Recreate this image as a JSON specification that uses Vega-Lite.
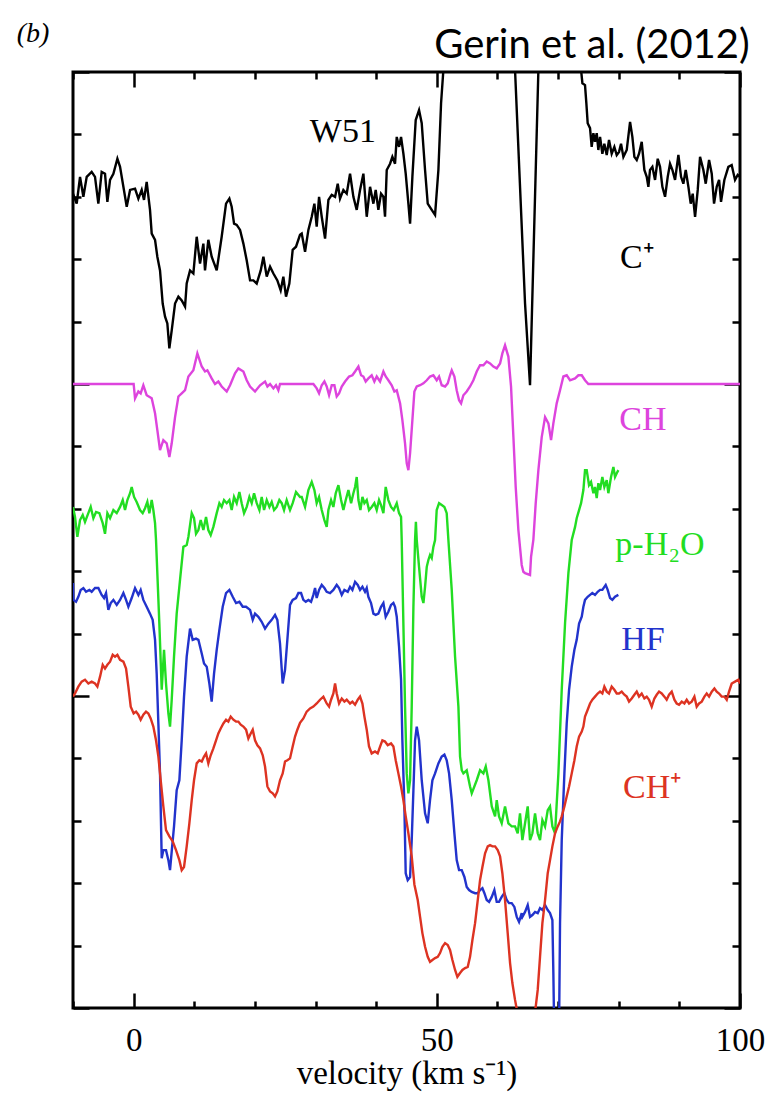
{
"$schema": "https://vega.github.io/schema/vega-lite/v6.json",
"width": 667, "height": 936,
"autosize": {"type": "none"},
"padding": {"left": 73, "top": 72, "right": 36, "bottom": 89},
"background": "white",
"config": {"view": {"stroke": "black", "strokeWidth": 3}, "axis": {"grid": false, "domain": false, "tickColor": "black", "tickWidth": 2.5, "labelColor": "black", "titleColor": "black"}},
"datasets": {
"spectra": [
{"s":"C+","v":-10,"y":13.05},{"s":"C+","v":-9.39,"y":12.89},{"s":"C+","v":-8.84,"y":13.32},{"s":"C+","v":-8.29,"y":13.0},{"s":"C+","v":-7.74,"y":13.32},{"s":"C+","v":-6.92,"y":13.4},{"s":"C+","v":-6.37,"y":13.32},{"s":"C+","v":-5.82,"y":12.89},{"s":"C+","v":-5.27,"y":13.4},{"s":"C+","v":-4.72,"y":13.37},{"s":"C+","v":-4.33,"y":12.92},{"s":"C+","v":-3.89,"y":13.27},{"s":"C+","v":-3.34,"y":13.37},{"s":"C+","v":-2.68,"y":13.61},{"s":"C+","v":-2.24,"y":13.48},{"s":"C+","v":-1.69,"y":13.16},{"s":"C+","v":-1.14,"y":12.84},{"s":"C+","v":-0.59,"y":13.11},{"s":"C+","v":0.23,"y":13.13},{"s":"C+","v":0.78,"y":12.97},{"s":"C+","v":1.33,"y":13.11},{"s":"C+","v":1.71,"y":12.95},{"s":"C+","v":2.15,"y":13.24},{"s":"C+","v":2.7,"y":12.79},{"s":"C+","v":2.98,"y":12.41},{"s":"C+","v":3.53,"y":12.31},{"s":"C+","v":3.91,"y":12.04},{"s":"C+","v":4.35,"y":11.82},{"s":"C+","v":4.79,"y":11.29},{"s":"C+","v":5.18,"y":11.08},{"s":"C+","v":5.56,"y":10.97},{"s":"C+","v":5.89,"y":10.57},{"s":"C+","v":6.28,"y":10.86},{"s":"C+","v":6.83,"y":11.29},{"s":"C+","v":7.38,"y":11.4},{"s":"C+","v":7.93,"y":11.34},{"s":"C+","v":8.48,"y":11.24},{"s":"C+","v":8.75,"y":11.61},{"s":"C+","v":9.3,"y":11.82},{"s":"C+","v":9.85,"y":11.77},{"s":"C+","v":10.4,"y":12.36},{"s":"C+","v":10.95,"y":11.93},{"s":"C+","v":11.5,"y":12.25},{"s":"C+","v":11.77,"y":11.82},{"s":"C+","v":12.32,"y":12.31},{"s":"C+","v":12.87,"y":12.04},{"s":"C+","v":13.7,"y":11.82},{"s":"C+","v":14.52,"y":12.36},{"s":"C+","v":15.24,"y":12.89},{"s":"C+","v":15.79,"y":12.97},{"s":"C+","v":16.17,"y":12.84},{"s":"C+","v":16.56,"y":12.57},{"s":"C+","v":17.0,"y":12.55},{"s":"C+","v":17.55,"y":12.47},{"s":"C+","v":18.1,"y":12.25},{"s":"C+","v":18.65,"y":11.98},{"s":"C+","v":19.2,"y":11.66},{"s":"C+","v":19.75,"y":11.66},{"s":"C+","v":20.3,"y":11.61},{"s":"C+","v":20.96,"y":11.82},{"s":"C+","v":21.4,"y":12.04},{"s":"C+","v":21.95,"y":11.72},{"s":"C+","v":22.5,"y":11.88},{"s":"C+","v":23.05,"y":11.77},{"s":"C+","v":23.7,"y":11.66},{"s":"C+","v":24.25,"y":11.5},{"s":"C+","v":24.69,"y":11.72},{"s":"C+","v":25.13,"y":11.4},{"s":"C+","v":25.68,"y":11.61},{"s":"C+","v":26.23,"y":12.15},{"s":"C+","v":26.78,"y":12.2},{"s":"C+","v":27.44,"y":12.39},{"s":"C+","v":27.72,"y":12.41},{"s":"C+","v":28.27,"y":12.12},{"s":"C+","v":28.82,"y":12.47},{"s":"C+","v":29.37,"y":12.68},{"s":"C+","v":29.81,"y":12.89},{"s":"C+","v":30.19,"y":12.52},{"s":"C+","v":30.58,"y":13.0},{"s":"C+","v":31.02,"y":12.68},{"s":"C+","v":31.57,"y":12.33},{"s":"C+","v":32.12,"y":12.95},{"s":"C+","v":32.67,"y":13.03},{"s":"C+","v":33.22,"y":13.0},{"s":"C+","v":33.66,"y":13.21},{"s":"C+","v":34.04,"y":12.97},{"s":"C+","v":34.59,"y":13.11},{"s":"C+","v":35.14,"y":13.05},{"s":"C+","v":35.69,"y":13.37},{"s":"C+","v":36.24,"y":13.0},{"s":"C+","v":36.79,"y":12.79},{"s":"C+","v":37.34,"y":13.11},{"s":"C+","v":37.89,"y":13.37},{"s":"C+","v":38.44,"y":12.68},{"s":"C+","v":38.99,"y":13.16},{"s":"C+","v":39.54,"y":12.89},{"s":"C+","v":39.92,"y":13.11},{"s":"C+","v":40.36,"y":12.79},{"s":"C+","v":40.8,"y":13.05},{"s":"C+","v":41.19,"y":13.0},{"s":"C+","v":41.46,"y":12.68},{"s":"C+","v":41.74,"y":13.43},{"s":"C+","v":42.29,"y":13.53},{"s":"C+","v":42.67,"y":13.64},{"s":"C+","v":43.11,"y":13.53},{"s":"C+","v":43.39,"y":13.96},{"s":"C+","v":43.77,"y":13.8},{"s":"C+","v":44.1,"y":13.96},{"s":"C+","v":44.49,"y":13.69},{"s":"C+","v":44.87,"y":13.37},{"s":"C+","v":45.31,"y":12.89},{"s":"C+","v":45.59,"y":12.57},{"s":"C+","v":45.97,"y":13.32},{"s":"C+","v":46.52,"y":14.23},{"s":"C+","v":47.07,"y":14.39},{"s":"C+","v":47.51,"y":14.18},{"s":"C+","v":48.06,"y":13.43},{"s":"C+","v":48.5,"y":12.89},{"s":"C+","v":49.16,"y":12.79},{"s":"C+","v":49.71,"y":12.71},{"s":"C+","v":50.26,"y":13.43},{"s":"C+","v":50.7,"y":14.5},{"s":"C+","v":51.08,"y":15.03},{"s":"C+","v":51.7,"y":16.2},{"s":"C+","v":62.4,"y":16.2},{"s":"C+","v":62.9,"y":15.03},{"s":"C+","v":64.55,"y":11.29},{"s":"C+","v":65.37,"y":9.98},{"s":"C+","v":66.75,"y":15.03},{"s":"C+","v":67.07,"y":16.2},{"s":"C+","v":73.7,"y":16.2},{"s":"C+","v":73.79,"y":15.03},{"s":"C+","v":74.01,"y":14.82},{"s":"C+","v":74.44,"y":14.79},{"s":"C+","v":74.66,"y":14.5},{"s":"C+","v":74.88,"y":14.18},{"s":"C+","v":75.27,"y":14.1},{"s":"C+","v":75.54,"y":13.8},{"s":"C+","v":75.82,"y":14.02},{"s":"C+","v":76.09,"y":13.88},{"s":"C+","v":76.37,"y":14.02},{"s":"C+","v":76.64,"y":13.75},{"s":"C+","v":76.92,"y":13.96},{"s":"C+","v":77.3,"y":13.69},{"s":"C+","v":77.63,"y":13.85},{"s":"C+","v":78.02,"y":13.67},{"s":"C+","v":78.4,"y":13.91},{"s":"C+","v":78.84,"y":13.69},{"s":"C+","v":79.28,"y":13.8},{"s":"C+","v":79.67,"y":13.67},{"s":"C+","v":80.05,"y":13.72},{"s":"C+","v":80.38,"y":13.85},{"s":"C+","v":80.77,"y":13.64},{"s":"C+","v":81.32,"y":13.75},{"s":"C+","v":81.87,"y":14.2},{"s":"C+","v":82.25,"y":13.96},{"s":"C+","v":82.58,"y":13.64},{"s":"C+","v":82.97,"y":13.59},{"s":"C+","v":83.35,"y":13.69},{"s":"C+","v":83.79,"y":13.88},{"s":"C+","v":84.23,"y":13.43},{"s":"C+","v":84.62,"y":13.32},{"s":"C+","v":84.89,"y":13.16},{"s":"C+","v":85.16,"y":13.43},{"s":"C+","v":85.55,"y":13.48},{"s":"C+","v":85.99,"y":13.27},{"s":"C+","v":86.43,"y":13.61},{"s":"C+","v":86.81,"y":13.48},{"s":"C+","v":87.2,"y":13.16},{"s":"C+","v":87.64,"y":13.0},{"s":"C+","v":88.08,"y":13.32},{"s":"C+","v":88.46,"y":13.53},{"s":"C+","v":88.85,"y":13.43},{"s":"C+","v":89.29,"y":13.27},{"s":"C+","v":89.84,"y":13.67},{"s":"C+","v":90.28,"y":13.32},{"s":"C+","v":90.66,"y":13.21},{"s":"C+","v":91.05,"y":13.43},{"s":"C+","v":91.49,"y":13.16},{"s":"C+","v":91.87,"y":12.89},{"s":"C+","v":92.2,"y":13.05},{"s":"C+","v":92.59,"y":12.68},{"s":"C+","v":93.03,"y":13.11},{"s":"C+","v":93.41,"y":13.64},{"s":"C+","v":93.96,"y":13.43},{"s":"C+","v":94.35,"y":13.21},{"s":"C+","v":94.9,"y":13.59},{"s":"C+","v":95.34,"y":13.37},{"s":"C+","v":95.72,"y":12.89},{"s":"C+","v":96.16,"y":13.16},{"s":"C+","v":96.55,"y":13.27},{"s":"C+","v":96.87,"y":12.92},{"s":"C+","v":97.42,"y":13.27},{"s":"C+","v":98.08,"y":13.48},{"s":"C+","v":98.63,"y":13.51},{"s":"C+","v":99.18,"y":13.27},{"s":"C+","v":99.62,"y":13.35},{"s":"C+","v":100,"y":13.32},

{"s":"CH","v":-10,"y":10},{"s":"CH","v":0,"y":10},{"s":"CH","v":0.23,"y":9.77},{"s":"CH","v":0.78,"y":9.88},{"s":"CH","v":1.16,"y":9.85},{"s":"CH","v":1.6,"y":9.98},{"s":"CH","v":2.15,"y":9.82},{"s":"CH","v":2.98,"y":9.77},{"s":"CH","v":3.53,"y":9.53},{"s":"CH","v":3.91,"y":9.26},{"s":"CH","v":4.35,"y":8.94},{"s":"CH","v":4.9,"y":9.1},{"s":"CH","v":5.45,"y":9.05},{"s":"CH","v":5.89,"y":8.83},{"s":"CH","v":6.28,"y":9.05},{"s":"CH","v":6.83,"y":9.47},{"s":"CH","v":7.38,"y":9.8},{"s":"CH","v":7.93,"y":9.85},{"s":"CH","v":8.48,"y":9.9},{"s":"CH","v":9.03,"y":10.12},{"s":"CH","v":9.85,"y":10.22},{"s":"CH","v":10.51,"y":10.49},{"s":"CH","v":11.23,"y":10.28},{"s":"CH","v":11.77,"y":10.2},{"s":"CH","v":12.16,"y":10.22},{"s":"CH","v":12.87,"y":10.09},{"s":"CH","v":13.42,"y":10.0},{"s":"CH","v":13.97,"y":10.04},{"s":"CH","v":14.52,"y":9.96},{"s":"CH","v":15.35,"y":9.88},{"s":"CH","v":15.9,"y":9.98},{"s":"CH","v":16.72,"y":10.17},{"s":"CH","v":17.27,"y":10.25},{"s":"CH","v":18.1,"y":10.2},{"s":"CH","v":18.65,"y":10.06},{"s":"CH","v":19.2,"y":9.96},{"s":"CH","v":20.02,"y":9.88},{"s":"CH","v":20.85,"y":9.98},{"s":"CH","v":21.67,"y":10.04},{"s":"CH","v":22.06,"y":9.96},{"s":"CH","v":22.5,"y":10.0},{"s":"CH","v":23.05,"y":9.93},{"s":"CH","v":23.48,"y":9.98},{"s":"CH","v":23.87,"y":9.9},{"s":"CH","v":24.14,"y":10},{"s":"CH","v":29.64,"y":10},{"s":"CH","v":30.19,"y":9.93},{"s":"CH","v":30.58,"y":9.85},{"s":"CH","v":31.02,"y":9.98},{"s":"CH","v":31.46,"y":10.04},{"s":"CH","v":31.84,"y":9.96},{"s":"CH","v":32.23,"y":9.82},{"s":"CH","v":32.67,"y":9.98},{"s":"CH","v":33.11,"y":9.98},{"s":"CH","v":33.49,"y":9.8},{"s":"CH","v":33.88,"y":9.85},{"s":"CH","v":34.32,"y":9.96},{"s":"CH","v":34.87,"y":10.04},{"s":"CH","v":35.53,"y":10.12},{"s":"CH","v":36.08,"y":10.14},{"s":"CH","v":36.52,"y":10.2},{"s":"CH","v":37.07,"y":10.28},{"s":"CH","v":37.51,"y":10.14},{"s":"CH","v":37.89,"y":10.12},{"s":"CH","v":38.27,"y":10.04},{"s":"CH","v":38.71,"y":10.09},{"s":"CH","v":39.26,"y":10.14},{"s":"CH","v":39.7,"y":10.04},{"s":"CH","v":40.09,"y":10.12},{"s":"CH","v":40.64,"y":10.04},{"s":"CH","v":41.19,"y":10.2},{"s":"CH","v":41.57,"y":10.12},{"s":"CH","v":42.01,"y":10.06},{"s":"CH","v":42.56,"y":9.98},{"s":"CH","v":43.0,"y":9.88},{"s":"CH","v":43.39,"y":9.9},{"s":"CH","v":43.94,"y":9.69},{"s":"CH","v":44.32,"y":9.42},{"s":"CH","v":44.76,"y":9.05},{"s":"CH","v":45.04,"y":8.73},{"s":"CH","v":45.31,"y":8.62},{"s":"CH","v":45.59,"y":8.89},{"s":"CH","v":45.97,"y":9.42},{"s":"CH","v":46.3,"y":9.88},{"s":"CH","v":46.69,"y":9.96},{"s":"CH","v":47.24,"y":9.98},{"s":"CH","v":47.79,"y":10.01},{"s":"CH","v":48.34,"y":10.06},{"s":"CH","v":48.88,"y":10.12},{"s":"CH","v":49.43,"y":10.14},{"s":"CH","v":49.98,"y":10.06},{"s":"CH","v":50.37,"y":10.12},{"s":"CH","v":50.81,"y":9.98},{"s":"CH","v":51.36,"y":9.96},{"s":"CH","v":51.8,"y":10.01},{"s":"CH","v":52.18,"y":10.14},{"s":"CH","v":52.46,"y":10.22},{"s":"CH","v":52.9,"y":10.12},{"s":"CH","v":53.28,"y":9.9},{"s":"CH","v":53.67,"y":9.74},{"s":"CH","v":54.0,"y":9.69},{"s":"CH","v":54.38,"y":9.82},{"s":"CH","v":54.93,"y":9.88},{"s":"CH","v":55.48,"y":9.96},{"s":"CH","v":56.03,"y":10.06},{"s":"CH","v":56.58,"y":10.2},{"s":"CH","v":57.13,"y":10.3},{"s":"CH","v":57.68,"y":10.3},{"s":"CH","v":58.23,"y":10.36},{"s":"CH","v":58.78,"y":10.33},{"s":"CH","v":59.33,"y":10.28},{"s":"CH","v":59.88,"y":10.25},{"s":"CH","v":60.43,"y":10.33},{"s":"CH","v":60.81,"y":10.49},{"s":"CH","v":61.25,"y":10.62},{"s":"CH","v":61.8,"y":10.44},{"s":"CH","v":62.24,"y":9.96},{"s":"CH","v":62.63,"y":9.15},{"s":"CH","v":63.01,"y":8.35},{"s":"CH","v":63.45,"y":7.66},{"s":"CH","v":64.0,"y":7.1},{"s":"CH","v":64.27,"y":6.99},{"s":"CH","v":64.55,"y":6.97},{"s":"CH","v":65.37,"y":6.94},{"s":"CH","v":65.54,"y":7.23},{"s":"CH","v":65.92,"y":7.5},{"s":"CH","v":66.31,"y":8.09},{"s":"CH","v":66.75,"y":8.62},{"s":"CH","v":67.3,"y":9.15},{"s":"CH","v":67.85,"y":9.47},{"s":"CH","v":68.4,"y":9.37},{"s":"CH","v":68.84,"y":9.1},{"s":"CH","v":69.22,"y":9.37},{"s":"CH","v":69.77,"y":9.69},{"s":"CH","v":70.32,"y":9.9},{"s":"CH","v":70.87,"y":10.12},{"s":"CH","v":71.42,"y":10.14},{"s":"CH","v":71.97,"y":10.06},{"s":"CH","v":72.8,"y":10.09},{"s":"CH","v":73.35,"y":10.14},{"s":"CH","v":73.9,"y":10.14},{"s":"CH","v":74.44,"y":10.06},{"s":"CH","v":74.99,"y":10},{"s":"CH","v":100,"y":10},

{"s":"H2O","v":-10,"y":8.03},{"s":"H2O","v":-9.67,"y":7.87},{"s":"H2O","v":-9.28,"y":7.55},{"s":"H2O","v":-8.84,"y":7.82},{"s":"H2O","v":-8.4,"y":7.9},{"s":"H2O","v":-8.02,"y":7.79},{"s":"H2O","v":-7.47,"y":7.93},{"s":"H2O","v":-7.08,"y":8.03},{"s":"H2O","v":-6.64,"y":7.85},{"s":"H2O","v":-6.2,"y":7.95},{"s":"H2O","v":-5.65,"y":7.93},{"s":"H2O","v":-5.1,"y":7.77},{"s":"H2O","v":-4.72,"y":7.6},{"s":"H2O","v":-4.33,"y":7.93},{"s":"H2O","v":-3.89,"y":7.85},{"s":"H2O","v":-3.34,"y":7.98},{"s":"H2O","v":-2.79,"y":7.93},{"s":"H2O","v":-2.24,"y":8.03},{"s":"H2O","v":-1.8,"y":8.14},{"s":"H2O","v":-1.42,"y":7.98},{"s":"H2O","v":-1.03,"y":8.14},{"s":"H2O","v":-0.59,"y":8.25},{"s":"H2O","v":-0.32,"y":8.35},{"s":"H2O","v":0.07,"y":8.19},{"s":"H2O","v":0.5,"y":8.11},{"s":"H2O","v":1.05,"y":7.98},{"s":"H2O","v":1.49,"y":7.93},{"s":"H2O","v":1.88,"y":8.01},{"s":"H2O","v":2.26,"y":8.11},{"s":"H2O","v":2.59,"y":7.93},{"s":"H2O","v":2.98,"y":8.14},{"s":"H2O","v":3.25,"y":7.98},{"s":"H2O","v":3.53,"y":7.77},{"s":"H2O","v":3.69,"y":7.5},{"s":"H2O","v":4.24,"y":6.16},{"s":"H2O","v":4.63,"y":5.1},{"s":"H2O","v":5.01,"y":5.74},{"s":"H2O","v":5.34,"y":5.2},{"s":"H2O","v":5.73,"y":4.72},{"s":"H2O","v":6.0,"y":4.51},{"s":"H2O","v":6.28,"y":4.94},{"s":"H2O","v":6.66,"y":5.63},{"s":"H2O","v":7.1,"y":6.32},{"s":"H2O","v":7.65,"y":6.86},{"s":"H2O","v":8.2,"y":7.39},{"s":"H2O","v":8.75,"y":7.42},{"s":"H2O","v":9.03,"y":7.55},{"s":"H2O","v":9.58,"y":7.93},{"s":"H2O","v":9.96,"y":7.85},{"s":"H2O","v":10.29,"y":7.6},{"s":"H2O","v":10.68,"y":7.66},{"s":"H2O","v":11.06,"y":7.82},{"s":"H2O","v":11.5,"y":7.66},{"s":"H2O","v":11.94,"y":7.87},{"s":"H2O","v":12.32,"y":7.66},{"s":"H2O","v":12.71,"y":7.58},{"s":"H2O","v":13.15,"y":7.71},{"s":"H2O","v":13.7,"y":7.93},{"s":"H2O","v":14.14,"y":8.09},{"s":"H2O","v":14.52,"y":8.03},{"s":"H2O","v":14.91,"y":8.14},{"s":"H2O","v":15.35,"y":8.09},{"s":"H2O","v":15.79,"y":8.14},{"s":"H2O","v":16.17,"y":7.98},{"s":"H2O","v":16.56,"y":8.19},{"s":"H2O","v":17.0,"y":8.09},{"s":"H2O","v":17.44,"y":8.27},{"s":"H2O","v":17.82,"y":8.09},{"s":"H2O","v":18.21,"y":7.93},{"s":"H2O","v":18.65,"y":8.03},{"s":"H2O","v":19.09,"y":8.19},{"s":"H2O","v":19.47,"y":8.09},{"s":"H2O","v":19.86,"y":8.25},{"s":"H2O","v":20.3,"y":8.09},{"s":"H2O","v":20.74,"y":7.98},{"s":"H2O","v":21.12,"y":8.19},{"s":"H2O","v":21.51,"y":7.98},{"s":"H2O","v":21.95,"y":8.14},{"s":"H2O","v":22.39,"y":8.03},{"s":"H2O","v":22.77,"y":8.11},{"s":"H2O","v":23.16,"y":7.98},{"s":"H2O","v":23.6,"y":8.03},{"s":"H2O","v":24.03,"y":8.14},{"s":"H2O","v":24.42,"y":8.09},{"s":"H2O","v":24.8,"y":7.98},{"s":"H2O","v":25.24,"y":8.14},{"s":"H2O","v":25.79,"y":7.98},{"s":"H2O","v":26.23,"y":8.09},{"s":"H2O","v":26.78,"y":8.27},{"s":"H2O","v":27.44,"y":8.19},{"s":"H2O","v":27.72,"y":8.19},{"s":"H2O","v":28.27,"y":8.03},{"s":"H2O","v":28.82,"y":8.3},{"s":"H2O","v":29.37,"y":8.43},{"s":"H2O","v":29.81,"y":8.3},{"s":"H2O","v":30.19,"y":8.09},{"s":"H2O","v":30.58,"y":8.19},{"s":"H2O","v":31.02,"y":7.98},{"s":"H2O","v":31.46,"y":7.82},{"s":"H2O","v":31.84,"y":7.71},{"s":"H2O","v":32.12,"y":7.98},{"s":"H2O","v":32.56,"y":8.14},{"s":"H2O","v":32.94,"y":8.03},{"s":"H2O","v":33.33,"y":8.25},{"s":"H2O","v":33.77,"y":8.38},{"s":"H2O","v":34.21,"y":8.14},{"s":"H2O","v":34.59,"y":7.98},{"s":"H2O","v":34.98,"y":8.14},{"s":"H2O","v":35.42,"y":8.3},{"s":"H2O","v":35.86,"y":8.09},{"s":"H2O","v":36.24,"y":8.25},{"s":"H2O","v":36.52,"y":8.35},{"s":"H2O","v":36.79,"y":8.51},{"s":"H2O","v":37.07,"y":8.14},{"s":"H2O","v":37.4,"y":7.98},{"s":"H2O","v":37.73,"y":8.19},{"s":"H2O","v":38.06,"y":8.09},{"s":"H2O","v":38.44,"y":8.14},{"s":"H2O","v":38.82,"y":7.98},{"s":"H2O","v":39.26,"y":8.03},{"s":"H2O","v":39.7,"y":8.09},{"s":"H2O","v":40.09,"y":7.98},{"s":"H2O","v":40.47,"y":8.14},{"s":"H2O","v":40.8,"y":8.06},{"s":"H2O","v":41.19,"y":7.93},{"s":"H2O","v":41.57,"y":8.35},{"s":"H2O","v":42.01,"y":8.14},{"s":"H2O","v":42.45,"y":8.03},{"s":"H2O","v":42.89,"y":7.98},{"s":"H2O","v":43.39,"y":8.09},{"s":"H2O","v":43.77,"y":7.93},{"s":"H2O","v":44.1,"y":7.87},{"s":"H2O","v":44.21,"y":7.5},{"s":"H2O","v":44.76,"y":4.83},{"s":"H2O","v":45.04,"y":3.76},{"s":"H2O","v":45.31,"y":3.44},{"s":"H2O","v":45.59,"y":3.65},{"s":"H2O","v":45.86,"y":4.83},{"s":"H2O","v":46.14,"y":6.43},{"s":"H2O","v":46.41,"y":7.5},{"s":"H2O","v":46.55,"y":7.79},{"s":"H2O","v":46.69,"y":7.5},{"s":"H2O","v":47.07,"y":7.07},{"s":"H2O","v":47.51,"y":6.59},{"s":"H2O","v":47.79,"y":6.49},{"s":"H2O","v":48.06,"y":6.75},{"s":"H2O","v":48.34,"y":7.07},{"s":"H2O","v":48.61,"y":7.18},{"s":"H2O","v":48.88,"y":7.26},{"s":"H2O","v":49.16,"y":7.21},{"s":"H2O","v":49.43,"y":7.39},{"s":"H2O","v":49.71,"y":7.5},{"s":"H2O","v":49.98,"y":7.98},{"s":"H2O","v":50.37,"y":8.09},{"s":"H2O","v":50.81,"y":8.06},{"s":"H2O","v":51.25,"y":8.03},{"s":"H2O","v":51.63,"y":7.93},{"s":"H2O","v":51.91,"y":7.5},{"s":"H2O","v":52.46,"y":6.7},{"s":"H2O","v":53.01,"y":5.63},{"s":"H2O","v":53.56,"y":4.83},{"s":"H2O","v":53.83,"y":4.03},{"s":"H2O","v":54.11,"y":3.81},{"s":"H2O","v":54.38,"y":3.76},{"s":"H2O","v":54.93,"y":3.81},{"s":"H2O","v":55.48,"y":3.55},{"s":"H2O","v":55.76,"y":3.44},{"s":"H2O","v":56.58,"y":3.65},{"s":"H2O","v":57.13,"y":3.81},{"s":"H2O","v":57.68,"y":3.76},{"s":"H2O","v":58.07,"y":3.87},{"s":"H2O","v":58.51,"y":3.65},{"s":"H2O","v":59.06,"y":3.23},{"s":"H2O","v":59.61,"y":3.07},{"s":"H2O","v":59.88,"y":3.33},{"s":"H2O","v":60.26,"y":3.07},{"s":"H2O","v":60.7,"y":2.96},{"s":"H2O","v":61.25,"y":3.23},{"s":"H2O","v":61.8,"y":2.96},{"s":"H2O","v":62.35,"y":2.91},{"s":"H2O","v":62.9,"y":2.91},{"s":"H2O","v":63.34,"y":2.8},{"s":"H2O","v":63.72,"y":3.12},{"s":"H2O","v":64.11,"y":2.69},{"s":"H2O","v":64.55,"y":2.96},{"s":"H2O","v":64.99,"y":3.23},{"s":"H2O","v":65.37,"y":2.69},{"s":"H2O","v":65.76,"y":2.8},{"s":"H2O","v":66.2,"y":3.12},{"s":"H2O","v":66.64,"y":2.8},{"s":"H2O","v":67.02,"y":2.69},{"s":"H2O","v":67.41,"y":3.01},{"s":"H2O","v":67.85,"y":2.91},{"s":"H2O","v":68.29,"y":3.17},{"s":"H2O","v":68.67,"y":3.23},{"s":"H2O","v":69.06,"y":2.91},{"s":"H2O","v":69.5,"y":2.8},{"s":"H2O","v":70.05,"y":3.76},{"s":"H2O","v":70.6,"y":5.1},{"s":"H2O","v":71.15,"y":6.17},{"s":"H2O","v":71.7,"y":6.97},{"s":"H2O","v":72.25,"y":7.5},{"s":"H2O","v":72.8,"y":7.71},{"s":"H2O","v":73.07,"y":7.85},{"s":"H2O","v":73.46,"y":7.98},{"s":"H2O","v":73.79,"y":8.09},{"s":"H2O","v":74.17,"y":8.3},{"s":"H2O","v":74.44,"y":8.62},{"s":"H2O","v":74.72,"y":8.62},{"s":"H2O","v":75.1,"y":8.38},{"s":"H2O","v":75.43,"y":8.43},{"s":"H2O","v":75.82,"y":8.25},{"s":"H2O","v":76.09,"y":8.35},{"s":"H2O","v":76.37,"y":8.17},{"s":"H2O","v":76.64,"y":8.41},{"s":"H2O","v":76.92,"y":8.3},{"s":"H2O","v":77.3,"y":8.51},{"s":"H2O","v":77.63,"y":8.35},{"s":"H2O","v":78.02,"y":8.46},{"s":"H2O","v":78.29,"y":8.25},{"s":"H2O","v":78.73,"y":8.51},{"s":"H2O","v":79.12,"y":8.67},{"s":"H2O","v":79.39,"y":8.51},{"s":"H2O","v":79.67,"y":8.57},{"s":"H2O","v":79.94,"y":8.62},

{"s":"HF","v":-10,"y":6.81},{"s":"HF","v":-9.94,"y":6.54},{"s":"HF","v":-9.5,"y":6.51},{"s":"HF","v":-9.12,"y":6.59},{"s":"HF","v":-8.73,"y":6.7},{"s":"HF","v":-8.29,"y":6.73},{"s":"HF","v":-7.85,"y":6.67},{"s":"HF","v":-7.3,"y":6.7},{"s":"HF","v":-6.92,"y":6.67},{"s":"HF","v":-6.37,"y":6.73},{"s":"HF","v":-5.82,"y":6.73},{"s":"HF","v":-5.27,"y":6.62},{"s":"HF","v":-4.88,"y":6.57},{"s":"HF","v":-4.55,"y":6.65},{"s":"HF","v":-4.17,"y":6.38},{"s":"HF","v":-3.78,"y":6.49},{"s":"HF","v":-3.34,"y":6.54},{"s":"HF","v":-2.79,"y":6.46},{"s":"HF","v":-2.24,"y":6.54},{"s":"HF","v":-1.69,"y":6.65},{"s":"HF","v":-1.25,"y":6.54},{"s":"HF","v":-0.87,"y":6.43},{"s":"HF","v":-0.32,"y":6.57},{"s":"HF","v":0.23,"y":6.73},{"s":"HF","v":0.78,"y":6.62},{"s":"HF","v":1.16,"y":6.7},{"s":"HF","v":1.6,"y":6.54},{"s":"HF","v":2.15,"y":6.43},{"s":"HF","v":2.7,"y":6.32},{"s":"HF","v":3.14,"y":6.22},{"s":"HF","v":3.53,"y":5.9},{"s":"HF","v":3.8,"y":5.36},{"s":"HF","v":4.08,"y":4.56},{"s":"HF","v":4.35,"y":3.76},{"s":"HF","v":4.63,"y":2.4},{"s":"HF","v":4.9,"y":2.53},{"s":"HF","v":5.34,"y":2.53},{"s":"HF","v":5.73,"y":2.37},{"s":"HF","v":6.0,"y":2.21},{"s":"HF","v":6.28,"y":2.51},{"s":"HF","v":6.66,"y":2.91},{"s":"HF","v":7.1,"y":3.49},{"s":"HF","v":7.54,"y":3.65},{"s":"HF","v":7.93,"y":4.29},{"s":"HF","v":8.31,"y":4.99},{"s":"HF","v":8.75,"y":5.63},{"s":"HF","v":9.3,"y":6.08},{"s":"HF","v":9.74,"y":5.9},{"s":"HF","v":10.29,"y":5.92},{"s":"HF","v":10.68,"y":5.9},{"s":"HF","v":11.23,"y":5.68},{"s":"HF","v":11.61,"y":5.52},{"s":"HF","v":12.05,"y":5.47},{"s":"HF","v":12.49,"y":5.2},{"s":"HF","v":12.87,"y":4.91},{"s":"HF","v":13.26,"y":5.36},{"s":"HF","v":13.7,"y":5.74},{"s":"HF","v":14.14,"y":6.06},{"s":"HF","v":14.69,"y":6.43},{"s":"HF","v":15.24,"y":6.65},{"s":"HF","v":15.79,"y":6.7},{"s":"HF","v":16.34,"y":6.59},{"s":"HF","v":16.89,"y":6.49},{"s":"HF","v":17.44,"y":6.51},{"s":"HF","v":17.99,"y":6.43},{"s":"HF","v":18.54,"y":6.43},{"s":"HF","v":19.2,"y":6.38},{"s":"HF","v":19.64,"y":6.22},{"s":"HF","v":20.02,"y":6.32},{"s":"HF","v":20.57,"y":6.27},{"s":"HF","v":21.12,"y":6.19},{"s":"HF","v":21.67,"y":6.08},{"s":"HF","v":22.22,"y":6.16},{"s":"HF","v":22.77,"y":6.22},{"s":"HF","v":23.32,"y":6.3},{"s":"HF","v":23.7,"y":6.22},{"s":"HF","v":24.14,"y":5.84},{"s":"HF","v":24.58,"y":5.2},{"s":"HF","v":24.97,"y":5.42},{"s":"HF","v":25.35,"y":5.9},{"s":"HF","v":25.79,"y":6.46},{"s":"HF","v":26.23,"y":6.54},{"s":"HF","v":26.78,"y":6.57},{"s":"HF","v":27.17,"y":6.65},{"s":"HF","v":27.61,"y":6.65},{"s":"HF","v":27.99,"y":6.54},{"s":"HF","v":28.38,"y":6.51},{"s":"HF","v":28.82,"y":6.54},{"s":"HF","v":29.26,"y":6.51},{"s":"HF","v":29.64,"y":6.62},{"s":"HF","v":29.92,"y":6.73},{"s":"HF","v":30.19,"y":6.57},{"s":"HF","v":30.58,"y":6.7},{"s":"HF","v":31.02,"y":6.78},{"s":"HF","v":31.46,"y":6.73},{"s":"HF","v":31.84,"y":6.67},{"s":"HF","v":32.39,"y":6.65},{"s":"HF","v":32.94,"y":6.7},{"s":"HF","v":33.49,"y":6.78},{"s":"HF","v":33.88,"y":6.73},{"s":"HF","v":34.32,"y":6.62},{"s":"HF","v":34.76,"y":6.7},{"s":"HF","v":35.31,"y":6.67},{"s":"HF","v":35.69,"y":6.75},{"s":"HF","v":36.08,"y":6.7},{"s":"HF","v":36.52,"y":6.83},{"s":"HF","v":36.96,"y":6.78},{"s":"HF","v":37.34,"y":6.7},{"s":"HF","v":37.73,"y":6.75},{"s":"HF","v":38.16,"y":6.67},{"s":"HF","v":38.44,"y":6.73},{"s":"HF","v":38.71,"y":6.59},{"s":"HF","v":39.15,"y":6.49},{"s":"HF","v":39.54,"y":6.32},{"s":"HF","v":39.92,"y":6.3},{"s":"HF","v":40.36,"y":6.32},{"s":"HF","v":40.8,"y":6.43},{"s":"HF","v":41.19,"y":6.49},{"s":"HF","v":41.57,"y":6.27},{"s":"HF","v":42.01,"y":6.35},{"s":"HF","v":42.45,"y":6.46},{"s":"HF","v":42.84,"y":6.49},{"s":"HF","v":43.11,"y":6.43},{"s":"HF","v":43.39,"y":6.27},{"s":"HF","v":43.77,"y":5.79},{"s":"HF","v":44.1,"y":5.26},{"s":"HF","v":44.32,"y":4.29},{"s":"HF","v":44.65,"y":3.23},{"s":"HF","v":44.87,"y":2.16},{"s":"HF","v":45.2,"y":2.05},{"s":"HF","v":45.59,"y":2.1},{"s":"HF","v":45.86,"y":2.69},{"s":"HF","v":46.14,"y":3.49},{"s":"HF","v":46.41,"y":4.29},{"s":"HF","v":46.69,"y":4.51},{"s":"HF","v":47.07,"y":4.29},{"s":"HF","v":47.51,"y":3.65},{"s":"HF","v":48.06,"y":3.12},{"s":"HF","v":48.5,"y":2.96},{"s":"HF","v":48.88,"y":3.33},{"s":"HF","v":49.27,"y":3.65},{"s":"HF","v":49.71,"y":3.76},{"s":"HF","v":50.26,"y":3.92},{"s":"HF","v":50.81,"y":4.03},{"s":"HF","v":51.25,"y":4.06},{"s":"HF","v":51.63,"y":3.97},{"s":"HF","v":52.02,"y":3.76},{"s":"HF","v":52.46,"y":3.33},{"s":"HF","v":52.9,"y":2.8},{"s":"HF","v":53.28,"y":2.37},{"s":"HF","v":53.67,"y":2.21},{"s":"HF","v":54.11,"y":2.21},{"s":"HF","v":54.55,"y":2.1},{"s":"HF","v":54.93,"y":1.94},{"s":"HF","v":55.32,"y":1.89},{"s":"HF","v":55.76,"y":1.86},{"s":"HF","v":56.31,"y":1.84},{"s":"HF","v":56.75,"y":1.84},{"s":"HF","v":57.13,"y":1.89},{"s":"HF","v":57.52,"y":1.92},{"s":"HF","v":57.85,"y":1.84},{"s":"HF","v":58.23,"y":1.73},{"s":"HF","v":58.62,"y":1.7},{"s":"HF","v":59.06,"y":1.78},{"s":"HF","v":59.49,"y":1.89},{"s":"HF","v":59.88,"y":1.7},{"s":"HF","v":60.26,"y":1.7},{"s":"HF","v":60.7,"y":1.78},{"s":"HF","v":61.14,"y":1.84},{"s":"HF","v":61.53,"y":1.73},{"s":"HF","v":61.91,"y":1.68},{"s":"HF","v":62.35,"y":1.68},{"s":"HF","v":62.79,"y":1.62},{"s":"HF","v":63.18,"y":1.46},{"s":"HF","v":63.56,"y":1.38},{"s":"HF","v":64.0,"y":1.52},{"s":"HF","v":64.11,"y":1.46},{"s":"HF","v":64.55,"y":1.54},{"s":"HF","v":64.99,"y":1.65},{"s":"HF","v":65.37,"y":1.46},{"s":"HF","v":65.76,"y":1.49},{"s":"HF","v":66.2,"y":1.54},{"s":"HF","v":66.64,"y":1.52},{"s":"HF","v":67.02,"y":1.6},{"s":"HF","v":67.41,"y":1.57},{"s":"HF","v":67.85,"y":1.65},{"s":"HF","v":68.29,"y":1.57},{"s":"HF","v":68.67,"y":1.52},{"s":"HF","v":69.06,"y":1.41},{"s":"HF","v":69.22,"y":0.56},{"s":"HF","v":69.45,"y":-1},{"s":"HF","v":70.1,"y":-1},{"s":"HF","v":70.32,"y":1.36},{"s":"HF","v":70.6,"y":2.69},{"s":"HF","v":71.04,"y":3.76},{"s":"HF","v":71.42,"y":4.56},{"s":"HF","v":71.81,"y":5.1},{"s":"HF","v":72.25,"y":5.47},{"s":"HF","v":72.69,"y":5.74},{"s":"HF","v":73.07,"y":5.9},{"s":"HF","v":73.46,"y":6.16},{"s":"HF","v":73.9,"y":6.27},{"s":"HF","v":74.17,"y":6.43},{"s":"HF","v":74.44,"y":6.54},{"s":"HF","v":74.88,"y":6.59},{"s":"HF","v":75.27,"y":6.62},{"s":"HF","v":75.65,"y":6.65},{"s":"HF","v":76.09,"y":6.62},{"s":"HF","v":76.53,"y":6.67},{"s":"HF","v":76.92,"y":6.7},{"s":"HF","v":77.3,"y":6.7},{"s":"HF","v":77.63,"y":6.75},{"s":"HF","v":77.85,"y":6.78},{"s":"HF","v":78.18,"y":6.7},{"s":"HF","v":78.57,"y":6.57},{"s":"HF","v":78.95,"y":6.54},{"s":"HF","v":79.39,"y":6.59},{"s":"HF","v":79.94,"y":6.62},

{"s":"CH+","v":-10,"y":4.99},{"s":"CH+","v":-9.67,"y":5.04},{"s":"CH+","v":-9.12,"y":5.15},{"s":"CH+","v":-8.57,"y":5.23},{"s":"CH+","v":-8.02,"y":5.26},{"s":"CH+","v":-7.47,"y":5.2},{"s":"CH+","v":-6.92,"y":5.23},{"s":"CH+","v":-6.37,"y":5.2},{"s":"CH+","v":-5.98,"y":5.15},{"s":"CH+","v":-5.54,"y":5.31},{"s":"CH+","v":-5.1,"y":5.5},{"s":"CH+","v":-4.72,"y":5.44},{"s":"CH+","v":-4.33,"y":5.5},{"s":"CH+","v":-3.89,"y":5.55},{"s":"CH+","v":-3.45,"y":5.66},{"s":"CH+","v":-3.07,"y":5.63},{"s":"CH+","v":-2.68,"y":5.66},{"s":"CH+","v":-2.24,"y":5.58},{"s":"CH+","v":-1.69,"y":5.55},{"s":"CH+","v":-1.25,"y":5.44},{"s":"CH+","v":-0.87,"y":5.15},{"s":"CH+","v":-0.48,"y":4.83},{"s":"CH+","v":0.0,"y":4.72},{"s":"CH+","v":0.4,"y":4.75},{"s":"CH+","v":0.78,"y":4.7},{"s":"CH+","v":1.16,"y":4.62},{"s":"CH+","v":1.6,"y":4.7},{"s":"CH+","v":2.04,"y":4.75},{"s":"CH+","v":2.43,"y":4.72},{"s":"CH+","v":2.81,"y":4.64},{"s":"CH+","v":3.25,"y":4.51},{"s":"CH+","v":3.69,"y":4.29},{"s":"CH+","v":4.08,"y":4.03},{"s":"CH+","v":4.46,"y":3.65},{"s":"CH+","v":4.9,"y":3.23},{"s":"CH+","v":5.34,"y":2.85},{"s":"CH+","v":5.89,"y":2.75},{"s":"CH+","v":6.44,"y":2.67},{"s":"CH+","v":6.99,"y":2.53},{"s":"CH+","v":7.54,"y":2.37},{"s":"CH+","v":7.93,"y":2.21},{"s":"CH+","v":8.31,"y":2.26},{"s":"CH+","v":8.75,"y":2.59},{"s":"CH+","v":9.19,"y":2.96},{"s":"CH+","v":9.58,"y":3.33},{"s":"CH+","v":9.96,"y":3.65},{"s":"CH+","v":10.4,"y":3.92},{"s":"CH+","v":10.84,"y":3.97},{"s":"CH+","v":11.23,"y":3.95},{"s":"CH+","v":11.61,"y":4.03},{"s":"CH+","v":11.94,"y":4.08},{"s":"CH+","v":12.32,"y":3.92},{"s":"CH+","v":12.71,"y":4.05},{"s":"CH+","v":13.15,"y":4.16},{"s":"CH+","v":13.59,"y":4.29},{"s":"CH+","v":13.97,"y":4.4},{"s":"CH+","v":14.36,"y":4.48},{"s":"CH+","v":14.8,"y":4.56},{"s":"CH+","v":15.24,"y":4.62},{"s":"CH+","v":15.62,"y":4.59},{"s":"CH+","v":16.01,"y":4.67},{"s":"CH+","v":16.45,"y":4.62},{"s":"CH+","v":16.89,"y":4.59},{"s":"CH+","v":17.27,"y":4.59},{"s":"CH+","v":17.66,"y":4.54},{"s":"CH+","v":18.1,"y":4.51},{"s":"CH+","v":18.54,"y":4.46},{"s":"CH+","v":18.92,"y":4.32},{"s":"CH+","v":19.31,"y":4.4},{"s":"CH+","v":19.64,"y":4.46},{"s":"CH+","v":20.02,"y":4.29},{"s":"CH+","v":20.41,"y":4.21},{"s":"CH+","v":20.85,"y":4.16},{"s":"CH+","v":21.29,"y":4.05},{"s":"CH+","v":21.67,"y":3.87},{"s":"CH+","v":22.06,"y":3.55},{"s":"CH+","v":22.5,"y":3.47},{"s":"CH+","v":22.94,"y":3.44},{"s":"CH+","v":23.32,"y":3.39},{"s":"CH+","v":23.7,"y":3.47},{"s":"CH+","v":24.14,"y":3.65},{"s":"CH+","v":24.58,"y":3.76},{"s":"CH+","v":24.97,"y":3.95},{"s":"CH+","v":25.35,"y":3.97},{"s":"CH+","v":25.79,"y":4.0},{"s":"CH+","v":26.23,"y":4.19},{"s":"CH+","v":26.62,"y":4.35},{"s":"CH+","v":27.0,"y":4.46},{"s":"CH+","v":27.44,"y":4.57},{"s":"CH+","v":27.99,"y":4.64},{"s":"CH+","v":28.54,"y":4.75},{"s":"CH+","v":29.09,"y":4.8},{"s":"CH+","v":29.64,"y":4.83},{"s":"CH+","v":30.19,"y":4.88},{"s":"CH+","v":30.74,"y":4.94},{"s":"CH+","v":31.29,"y":4.99},{"s":"CH+","v":31.84,"y":4.88},{"s":"CH+","v":32.23,"y":4.83},{"s":"CH+","v":32.56,"y":4.94},{"s":"CH+","v":32.94,"y":5.04},{"s":"CH+","v":33.22,"y":5.2},{"s":"CH+","v":33.49,"y":5.04},{"s":"CH+","v":33.88,"y":4.88},{"s":"CH+","v":34.32,"y":4.96},{"s":"CH+","v":34.76,"y":4.91},{"s":"CH+","v":35.14,"y":4.94},{"s":"CH+","v":35.69,"y":4.88},{"s":"CH+","v":36.08,"y":4.91},{"s":"CH+","v":36.52,"y":4.86},{"s":"CH+","v":36.96,"y":4.94},{"s":"CH+","v":37.34,"y":4.99},{"s":"CH+","v":37.73,"y":4.88},{"s":"CH+","v":38.06,"y":4.67},{"s":"CH+","v":38.44,"y":4.46},{"s":"CH+","v":38.82,"y":4.19},{"s":"CH+","v":39.26,"y":4.08},{"s":"CH+","v":39.81,"y":4.11},{"s":"CH+","v":40.25,"y":4.08},{"s":"CH+","v":40.64,"y":4.19},{"s":"CH+","v":41.02,"y":4.29},{"s":"CH+","v":41.46,"y":4.27},{"s":"CH+","v":41.9,"y":4.21},{"s":"CH+","v":42.45,"y":4.24},{"s":"CH+","v":42.84,"y":4.19},{"s":"CH+","v":43.22,"y":3.97},{"s":"CH+","v":43.66,"y":3.76},{"s":"CH+","v":44.1,"y":3.55},{"s":"CH+","v":44.49,"y":3.33},{"s":"CH+","v":44.87,"y":3.07},{"s":"CH+","v":45.31,"y":2.8},{"s":"CH+","v":45.86,"y":2.43},{"s":"CH+","v":46.3,"y":1.98},{"s":"CH+","v":46.85,"y":1.73},{"s":"CH+","v":47.24,"y":1.46},{"s":"CH+","v":47.62,"y":1.2},{"s":"CH+","v":48.06,"y":0.98},{"s":"CH+","v":48.5,"y":0.82},{"s":"CH+","v":48.88,"y":0.74},{"s":"CH+","v":49.27,"y":0.77},{"s":"CH+","v":49.71,"y":0.8},{"s":"CH+","v":50.15,"y":0.82},{"s":"CH+","v":50.53,"y":0.88},{"s":"CH+","v":50.92,"y":0.98},{"s":"CH+","v":51.36,"y":1.04},{"s":"CH+","v":51.8,"y":1.01},{"s":"CH+","v":52.18,"y":0.93},{"s":"CH+","v":52.57,"y":0.77},{"s":"CH+","v":53.01,"y":0.61},{"s":"CH+","v":53.39,"y":0.5},{"s":"CH+","v":53.83,"y":0.56},{"s":"CH+","v":54.22,"y":0.61},{"s":"CH+","v":54.66,"y":0.64},{"s":"CH+","v":55.1,"y":0.66},{"s":"CH+","v":55.48,"y":0.82},{"s":"CH+","v":55.87,"y":1.09},{"s":"CH+","v":56.31,"y":1.36},{"s":"CH+","v":56.75,"y":1.73},{"s":"CH+","v":57.13,"y":2.05},{"s":"CH+","v":57.52,"y":2.26},{"s":"CH+","v":57.96,"y":2.48},{"s":"CH+","v":58.4,"y":2.59},{"s":"CH+","v":58.78,"y":2.61},{"s":"CH+","v":59.17,"y":2.59},{"s":"CH+","v":59.61,"y":2.59},{"s":"CH+","v":60.04,"y":2.53},{"s":"CH+","v":60.43,"y":2.43},{"s":"CH+","v":60.81,"y":2.16},{"s":"CH+","v":61.25,"y":1.73},{"s":"CH+","v":61.69,"y":1.2},{"s":"CH+","v":62.08,"y":0.72},{"s":"CH+","v":62.46,"y":0.4},{"s":"CH+","v":62.9,"y":0.13},{"s":"CH+","v":63.34,"y":-0.1},{"s":"CH+","v":63.6,"y":-0.3},{"s":"CH+","v":65.9,"y":-0.3},{"s":"CH+","v":66.31,"y":0.02},{"s":"CH+","v":66.64,"y":0.29},{"s":"CH+","v":67.02,"y":0.82},{"s":"CH+","v":67.41,"y":1.36},{"s":"CH+","v":67.85,"y":1.73},{"s":"CH+","v":68.29,"y":2.16},{"s":"CH+","v":68.67,"y":2.37},{"s":"CH+","v":69.06,"y":2.59},{"s":"CH+","v":69.5,"y":2.8},{"s":"CH+","v":69.94,"y":2.91},{"s":"CH+","v":70.32,"y":2.99},{"s":"CH+","v":70.6,"y":3.07},{"s":"CH+","v":71.04,"y":3.23},{"s":"CH+","v":71.42,"y":3.39},{"s":"CH+","v":71.81,"y":3.55},{"s":"CH+","v":72.25,"y":3.76},{"s":"CH+","v":72.69,"y":3.97},{"s":"CH+","v":73.07,"y":4.19},{"s":"CH+","v":73.46,"y":4.35},{"s":"CH+","v":73.9,"y":4.43},{"s":"CH+","v":74.17,"y":4.51},{"s":"CH+","v":74.44,"y":4.67},{"s":"CH+","v":74.88,"y":4.78},{"s":"CH+","v":75.27,"y":4.88},{"s":"CH+","v":75.65,"y":4.94},{"s":"CH+","v":76.09,"y":4.99},{"s":"CH+","v":76.53,"y":5.04},{"s":"CH+","v":76.92,"y":5.07},{"s":"CH+","v":77.3,"y":5.04},{"s":"CH+","v":77.63,"y":5.15},{"s":"CH+","v":78.02,"y":5.07},{"s":"CH+","v":78.4,"y":5.04},{"s":"CH+","v":78.84,"y":5.15},{"s":"CH+","v":79.28,"y":5.1},{"s":"CH+","v":79.67,"y":5.04},{"s":"CH+","v":80.05,"y":5.04},{"s":"CH+","v":80.49,"y":5.07},{"s":"CH+","v":80.93,"y":5.02},{"s":"CH+","v":81.32,"y":4.99},{"s":"CH+","v":81.7,"y":4.91},{"s":"CH+","v":82.14,"y":4.96},{"s":"CH+","v":82.58,"y":5.02},{"s":"CH+","v":82.97,"y":5.07},{"s":"CH+","v":83.35,"y":4.99},{"s":"CH+","v":83.79,"y":5.04},{"s":"CH+","v":84.23,"y":4.96},{"s":"CH+","v":84.62,"y":4.99},{"s":"CH+","v":85.0,"y":4.94},{"s":"CH+","v":85.44,"y":4.83},{"s":"CH+","v":85.88,"y":4.96},{"s":"CH+","v":86.26,"y":5.02},{"s":"CH+","v":86.65,"y":5.07},{"s":"CH+","v":87.09,"y":5.04},{"s":"CH+","v":87.53,"y":4.99},{"s":"CH+","v":87.91,"y":4.94},{"s":"CH+","v":88.3,"y":5.02},{"s":"CH+","v":88.74,"y":5.07},{"s":"CH+","v":89.18,"y":4.94},{"s":"CH+","v":89.56,"y":4.88},{"s":"CH+","v":89.95,"y":4.86},{"s":"CH+","v":90.39,"y":4.91},{"s":"CH+","v":90.83,"y":4.88},{"s":"CH+","v":91.21,"y":4.94},{"s":"CH+","v":91.6,"y":4.88},{"s":"CH+","v":92.04,"y":4.91},{"s":"CH+","v":92.48,"y":4.99},{"s":"CH+","v":92.86,"y":4.83},{"s":"CH+","v":93.25,"y":4.88},{"s":"CH+","v":93.69,"y":4.91},{"s":"CH+","v":94.13,"y":4.99},{"s":"CH+","v":94.51,"y":5.04},{"s":"CH+","v":94.9,"y":4.99},{"s":"CH+","v":95.34,"y":5.07},{"s":"CH+","v":95.78,"y":5.12},{"s":"CH+","v":96.16,"y":5.07},{"s":"CH+","v":96.55,"y":5.04},{"s":"CH+","v":96.98,"y":4.99},{"s":"CH+","v":97.42,"y":4.99},{"s":"CH+","v":97.81,"y":4.94},{"s":"CH+","v":98.19,"y":5.07},{"s":"CH+","v":98.63,"y":5.2},{"s":"CH+","v":99.18,"y":5.23},{"s":"CH+","v":99.73,"y":5.26},{"s":"CH+","v":100,"y":5.2}
],
"labels": [
{"s":"C+","t":"W51","v":34.5,"y":14.04},
{"s":"C+","t":"C⁺","v":83.0,"y":12.02},
{"s":"CH","t":"CH","v":84.0,"y":9.42},
{"s":"H2O","t":"p-H₂O","v":86.8,"y":7.42},
{"s":"HF","t":"HF","v":84.0,"y":5.9},
{"s":"CH+","t":"CH⁺","v":85.5,"y":3.53}
],
"panel": [{"t":"(b)","v":-16.6,"y":15.61}],
"source": [{"t":"Gerin et al. (2012)","v":101.6,"y":15.42}]
},
"resolve": {"axis": {"x": "independent", "y": "independent"}},
"layer": [
{"data": {"name": "spectra"}, "transform": [{"filter": "datum.s === 'C+'"}],
 "mark": {"type": "line", "color": "#000000", "strokeWidth": 2.4, "clip": true},
 "encoding": {
  "x": {"field": "v", "type": "quantitative", "scale": {"domain": [-10, 100], "nice": false, "zero": false},
        "axis": {"orient": "bottom", "values": [0, 50, 100], "ticks": false, "labelFont": "Liberation Serif", "labelFontSize": 33, "labelPadding": 16, "labelFlush": false, "labelOverlap": false, "title": "velocity (km s⁻¹)", "titleFont": "Liberation Serif", "titleFontSize": 33, "titleFontWeight": "normal", "titlePadding": 0}},
  "y": {"field": "y", "type": "quantitative", "scale": {"domain": [0, 15], "nice": false, "zero": false},
        "axis": {"orient": "left", "values": [0, 5, 10, 15], "tickSize": -16, "labels": false, "title": null}}
 }},
{"data": {"name": "spectra"}, "transform": [{"filter": "datum.s === 'CH'"}],
 "mark": {"type": "line", "color": "#dd44dd", "strokeWidth": 2.4, "clip": true},
 "encoding": {
  "x": {"field": "v", "type": "quantitative", "axis": {"orient": "bottom", "values": [0, 50, 100], "tickSize": -15, "labels": false, "title": null}},
  "y": {"field": "y", "type": "quantitative", "axis": {"orient": "left", "values": [1,2,3,4,6,7,8,9,11,12,13,14], "tickSize": -8, "labels": false, "title": null}}
 }},
{"data": {"name": "spectra"}, "transform": [{"filter": "datum.s === 'H2O'"}],
 "mark": {"type": "line", "color": "#22dd22", "strokeWidth": 2.4, "clip": true},
 "encoding": {
  "x": {"field": "v", "type": "quantitative", "axis": {"orient": "bottom", "values": [-10,10,20,30,40,60,70,80,90], "tickSize": -7, "labels": false, "title": null}},
  "y": {"field": "y", "type": "quantitative", "axis": {"orient": "right", "values": [0, 5, 10, 15], "tickSize": -16, "labels": false, "title": null}}
 }},
{"data": {"name": "spectra"}, "transform": [{"filter": "datum.s === 'HF'"}],
 "mark": {"type": "line", "color": "#2233cc", "strokeWidth": 2.4, "clip": true},
 "encoding": {
  "x": {"field": "v", "type": "quantitative", "axis": {"orient": "top", "values": [0, 50, 100], "tickSize": -15, "labels": false, "title": null}},
  "y": {"field": "y", "type": "quantitative", "axis": {"orient": "right", "values": [1,2,3,4,6,7,8,9,11,12,13,14], "tickSize": -8, "labels": false, "title": null}}
 }},
{"data": {"name": "spectra"}, "transform": [{"filter": "datum.s === 'CH+'"}],
 "mark": {"type": "line", "color": "#dd3322", "strokeWidth": 2.4, "clip": true},
 "encoding": {
  "x": {"field": "v", "type": "quantitative", "axis": {"orient": "top", "values": [-10,10,20,30,40,60,70,80,90], "tickSize": -7, "labels": false, "title": null}},
  "y": {"field": "y", "type": "quantitative", "axis": null}
 }},
{"data": {"name": "labels"},
 "mark": {"type": "text", "font": "Liberation Serif", "fontSize": 34, "align": "center", "baseline": "middle"},
 "encoding": {
  "x": {"field": "v", "type": "quantitative", "axis": null},
  "y": {"field": "y", "type": "quantitative", "axis": null},
  "text": {"field": "t"},
  "color": {"field": "s", "type": "nominal", "legend": null, "scale": {"domain": ["C+", "CH", "H2O", "HF", "CH+"], "range": ["#000000", "#dd44dd", "#22dd22", "#2233cc", "#dd3322"]}}
 }},
{"data": {"name": "panel"},
 "mark": {"type": "text", "font": "Liberation Serif", "fontStyle": "italic", "fontSize": 28, "align": "center", "baseline": "middle", "color": "black"},
 "encoding": {
  "x": {"field": "v", "type": "quantitative", "axis": null},
  "y": {"field": "y", "type": "quantitative", "axis": null},
  "text": {"field": "t"}
 }},
{"data": {"name": "source"},
 "mark": {"type": "text", "font": "Lato", "fontSize": 40, "align": "right", "baseline": "middle", "color": "black"},
 "encoding": {
  "x": {"field": "v", "type": "quantitative", "axis": null},
  "y": {"field": "y", "type": "quantitative", "axis": null},
  "text": {"field": "t"}
 }}
]
}
